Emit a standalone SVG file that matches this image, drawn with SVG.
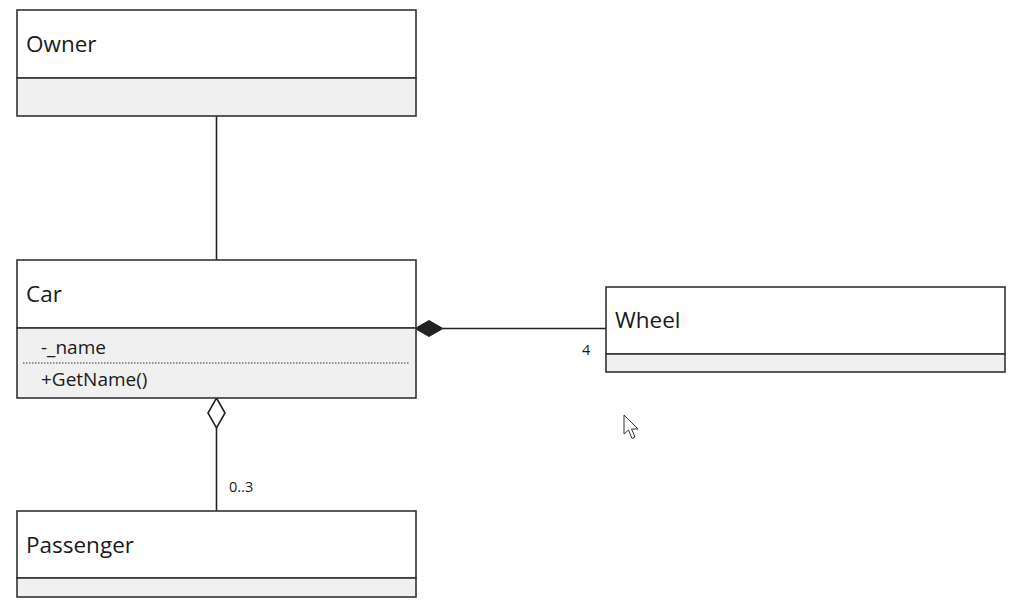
<svg xmlns="http://www.w3.org/2000/svg" width="1024" height="609" viewBox="0 0 1024 609">
<style>
.box{fill:#ffffff;stroke:#333333;stroke-width:1.6}
.comp{fill:#f0f0f0;stroke:#333333;stroke-width:1.6}
.title{font-family:"Open Sans","Noto Sans",sans-serif;font-size:22.5px;fill:#1a1a1a}
.member{font-family:"Open Sans","Noto Sans",sans-serif;font-size:19px;fill:#1a1a1a}
.mult{font-family:"Open Sans","Noto Sans",sans-serif;font-size:14.5px;fill:#1a1a1a}
.line{stroke:#222222;stroke-width:1.6;fill:none}
</style>
<rect width="1024" height="609" fill="#ffffff"/>
<g id="connectors">
<line class="line" x1="216.5" y1="116" x2="216.5" y2="260"/>
<line class="line" x1="443" y1="328.5" x2="606" y2="328.5"/>
<polygon points="415,328.5 429,320.5 443,328.5 429,336.5" fill="#222222" stroke="#222222" stroke-width="1"/>
<line class="line" x1="216.5" y1="428" x2="216.5" y2="511"/>
<polygon points="216.5,398 225,413 216.5,428 208,413" fill="#ffffff" stroke="#222222" stroke-width="1.6"/>
<text class="mult" x="582" y="355">4</text>
<text class="mult" x="229" y="492">0..3</text>
</g>
<g id="owner">
<rect class="box" x="17" y="10" width="399" height="68"/>
<rect class="comp" x="17" y="78" width="399" height="38"/>
<text class="title" x="26" y="52">Owner</text>
</g>
<g id="car">
<rect class="box" x="17" y="260" width="399" height="68"/>
<rect class="comp" x="17" y="328" width="399" height="70"/>
<text class="title" x="26" y="302">Car</text>
<text class="member" x="41" y="354">-_name</text>
<line x1="23" y1="363" x2="410" y2="363" stroke="#333333" stroke-width="1" stroke-dasharray="1.5,1.5"/>
<text class="member" x="41" y="386">+GetName()</text>
</g>
<g id="wheel">
<rect class="box" x="606" y="287" width="399" height="67"/>
<rect class="comp" x="606" y="354" width="399" height="18"/>
<text class="title" x="615" y="328">Wheel</text>
</g>
<g id="passenger">
<rect class="box" x="17" y="511" width="399" height="67"/>
<rect class="comp" x="17" y="578" width="399" height="19"/>
<text class="title" x="26" y="553">Passenger</text>
</g>
<g id="cursor">
<polygon points="624,415 624,434 628.5,430 632,438.5 635,437 631.5,429 638,429" fill="#ffffff" stroke="#333333" stroke-width="1"/>
</g>
</svg>
